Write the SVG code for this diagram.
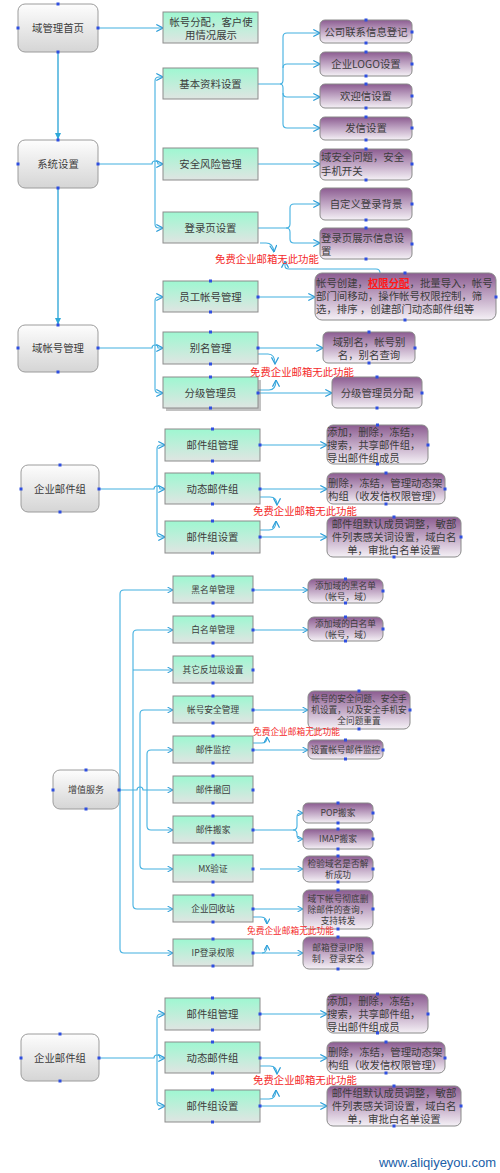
<svg xmlns="http://www.w3.org/2000/svg" width="500" height="1173" viewBox="0 0 500 1173">
<defs>
<linearGradient id="gGrey" x1="0" y1="0" x2="0" y2="1"><stop offset="0" stop-color="#fdfdfd"/><stop offset="1" stop-color="#d5d5d5"/></linearGradient>
<linearGradient id="gGreen" x1="0" y1="0" x2="0" y2="1"><stop offset="0" stop-color="#9ef7d1"/><stop offset="1" stop-color="#dfe5e2"/></linearGradient>
<linearGradient id="gPurple" x1="0" y1="0" x2="0" y2="1"><stop offset="0" stop-color="#8c5c91"/><stop offset="0.45" stop-color="#bca0c0"/><stop offset="1" stop-color="#f5f1f6"/></linearGradient>
<marker id="ar" viewBox="0 0 8 8" refX="7.5" refY="4" markerWidth="8" markerHeight="8" markerUnits="userSpaceOnUse" orient="auto"><path d="M0.8,0.5 L7.5,4 L0.8,7.5" fill="none" stroke="#2c9dd8" stroke-width="1.2"/></marker>
<marker id="ars" viewBox="0 0 8 8" refX="7.5" refY="4" markerWidth="6.5" markerHeight="6.5" markerUnits="userSpaceOnUse" orient="auto"><path d="M0.8,0.5 L7.5,4 L0.8,7.5" fill="none" stroke="#2c9dd8" stroke-width="1.3"/></marker>
<marker id="arf" viewBox="0 0 8 8" refX="7" refY="4" markerWidth="7" markerHeight="7" markerUnits="userSpaceOnUse" orient="auto"><path d="M0,0.5 L7.5,4 L0,7.5 Z" fill="#2ea8d8"/></marker>
</defs>
<style>
.grey{fill:url(#gGrey);stroke:#9c9c9c;stroke-width:1}
.green{fill:url(#gGreen);stroke:#8c8c8c;stroke-width:1}
.purple{fill:url(#gPurple);stroke:#8a8a8a;stroke-width:1}
.hd{fill:#2f4fe0}
text{font-family:"Noto Sans CJK SC","Liberation Sans",sans-serif;fill:#3c3c3c}
.f{font-size:10.4px}
.s{font-size:8.7px}
.c{text-anchor:middle}
.red{fill:#f42a2a}
.con{fill:none;stroke:#42b0e0;stroke-width:1.1}
.main{fill:none;stroke:#5ab9e0;stroke-width:1.7}
.wm{font-family:"Liberation Sans",Arial,sans-serif;font-size:13px;fill:#2060a8;text-anchor:end}
</style>
<rect width="500" height="1173" fill="#ffffff"/>

<g id="connectors">
  <path class="main" d="M58,52 V139" marker-end="url(#arf)"/>
  <path class="main" d="M58,188 V324" marker-end="url(#arf)"/>
  <path class="con" d="M98,28 H163" marker-end="url(#ar)"/>
  <path class="con" d="M98,164 H152 a3,3 0 0 1 6,0 H163" marker-end="url(#ar)"/>
  <path class="con" d="M155,164 V81 Q155,77 159,77 H163" marker-end="url(#ar)"/>
  <path class="con" d="M155,164 V224 Q155,228 159,228 H163" marker-end="url(#ar)"/>
  <path class="con" d="M258,84 H280 Q283,84 283,80 V37 Q283,33 287,33 H320" marker-end="url(#ar)"/>
  <path class="con" d="M283,68 Q283,64 287,64 H320" marker-end="url(#ar)"/>
  <path class="con" d="M283,93 Q283,97 287,97 H320" marker-end="url(#ar)"/>
  <path class="con" d="M280,84 Q283,84 283,88 V124 Q283,128 287,128 H320" marker-end="url(#ar)"/>
  <path class="con" d="M258,164 H320" marker-end="url(#ar)"/>
  <path class="con" d="M258,228 H286 Q290,228 290,224 V208 Q290,204 294,204 H320" marker-end="url(#ar)"/>
  <path class="con" d="M286,228 Q290,228 290,232 V239 Q290,243 294,243 H320" marker-end="url(#ar)"/>
  <path class="con" d="M260,243 H266 Q273,243 274,252" marker-end="url(#ar)"/>
  <path class="con" d="M380,273 Q380,269 376,269 H289 Q285,269 285,266 V261" marker-end="url(#ar)"/>
  <path class="con" d="M98,348 H152 a3,3 0 0 1 6,0 H163" marker-end="url(#ar)"/>
  <path class="con" d="M155,348 V301 Q155,297 159,297 H163" marker-end="url(#ar)"/>
  <path class="con" d="M155,348 V389 Q155,393 159,393 H163" marker-end="url(#ar)"/>
  <path class="con" d="M258,297 H315" marker-end="url(#ar)"/>
  <path class="con" d="M258,348 H323" marker-end="url(#ar)"/>
  <path class="con" d="M258,354 H268 Q275,354 275,364" marker-end="url(#ar)"/>
  <path class="con" d="M258,390 H269 Q276,390 276,380" marker-end="url(#ar)"/>
  <path class="con" d="M258,393 H332" marker-end="url(#ar)"/>
  <path class="con" d="M99,489 H154 a3,3 0 0 1 6,0 H165" marker-end="url(#ar)"/>
  <path class="con" d="M157,489 V449 Q157,445 161,445 H165" marker-end="url(#ar)"/>
  <path class="con" d="M157,489 V533 Q157,537 161,537 H165" marker-end="url(#ar)"/>
  <path class="con" d="M260,445 H327" marker-end="url(#ar)"/>
  <path class="con" d="M260,489 H327" marker-end="url(#ar)"/>
  <path class="con" d="M260,537 H327" marker-end="url(#ar)"/>
  <path class="con" d="M260,497 H270 Q277,497 277,505" marker-end="url(#ar)"/>
  <path class="con" d="M260,530 H269 Q276,530 276,521" marker-end="url(#ar)"/>
  <path class="con" d="M119,790 H137 a3,3 0 0 1 6,0 H173" marker-end="url(#ars)"/>
  <path class="con" d="M120,790 V594 Q120,590 124,590 H173" marker-end="url(#ars)"/>
  <path class="con" d="M120,790 V949 Q120,953 124,953 H173" marker-end="url(#ars)"/>
  <path class="con" d="M133,790 V634 Q133,630 137,630 H173" marker-end="url(#ars)"/>
  <path class="con" d="M133,670 H173" marker-end="url(#ars)"/>
  <path class="con" d="M133,790 V905 Q133,909 137,909 H173" marker-end="url(#ars)"/>
  <path class="con" d="M140,790 V714 Q140,710 144,710 H173" marker-end="url(#ars)"/>
  <path class="con" d="M140,790 V865 Q140,869 144,869 H173" marker-end="url(#ars)"/>
  <path class="con" d="M147,790 V754 Q147,750 151,750 H173" marker-end="url(#ars)"/>
  <path class="con" d="M147,790 V826 Q147,830 151,830 H173" marker-end="url(#ars)"/>
  <path class="con" d="M253,590 H308" marker-end="url(#ars)"/>
  <path class="con" d="M253,630 H308" marker-end="url(#ars)"/>
  <path class="con" d="M253,710 H308" marker-end="url(#ars)"/>
  <path class="con" d="M253,750 H308" marker-end="url(#ars)"/>
  <path class="con" d="M253,743 H262 Q267,743 267,737" marker-end="url(#ars)"/>
  <path class="con" d="M253,830 H293 Q297,830 297,826 V817 Q297,813 301,813 H303" marker-end="url(#ars)"/>
  <path class="con" d="M293,830 Q297,830 297,834 V835 Q297,839 301,839 H303" marker-end="url(#ars)"/>
  <path class="con" d="M260,869 H303" marker-end="url(#ars)"/>
  <path class="con" d="M253,909 H303" marker-end="url(#ars)"/>
  <path class="con" d="M253,917 H261 Q267,917 267,924" marker-end="url(#ars)"/>
  <path class="con" d="M253,953 H303" marker-end="url(#ars)"/>
  <path class="con" d="M262,953 Q267,953 267,945" marker-end="url(#ars)"/>
  <path class="con" d="M99,1058 H154 a3,3 0 0 1 6,0 H165" marker-end="url(#ar)"/>
  <path class="con" d="M157,1058 V1018 Q157,1014 161,1014 H165" marker-end="url(#ar)"/>
  <path class="con" d="M157,1058 V1102 Q157,1106 161,1106 H165" marker-end="url(#ar)"/>
  <path class="con" d="M260,1014 H327" marker-end="url(#ar)"/>
  <path class="con" d="M260,1058 H327" marker-end="url(#ar)"/>
  <path class="con" d="M260,1106 H327" marker-end="url(#ar)"/>
  <path class="con" d="M260,1066 H270 Q277,1066 277,1074" marker-end="url(#ar)"/>
  <path class="con" d="M260,1099 H269 Q276,1099 276,1090" marker-end="url(#ar)"/>
</g>

<g id="n_home"><rect class="grey" x="18" y="4" width="80" height="48" rx="7"/><text class="f c" x="58" y="32">域管理首页</text>
<rect class="hd" x="56.5" y="2.5" width="3" height="3"/><rect class="hd" x="16.5" y="26.5" width="3" height="3"/><rect class="hd" x="96.5" y="26.5" width="3" height="3"/><rect class="hd" x="56.5" y="50.5" width="3" height="3"/></g>
<g id="n_assign"><rect class="green" x="163" y="12" width="95" height="31"/><text class="f c" x="211" y="26">帐号分配，客户使</text><text class="f c" x="211" y="39">用情况展示</text></g>
<g id="n_basic"><rect class="green" x="163" y="68" width="95" height="31"/><text class="f c" x="210.5" y="88">基本资料设置</text></g>
<g id="n_sys"><rect class="grey" x="18" y="140" width="80" height="48" rx="7"/><text class="f c" x="58" y="168">系统设置</text>
<rect class="hd" x="56.5" y="138.5" width="3" height="3"/><rect class="hd" x="16.5" y="162.5" width="3" height="3"/><rect class="hd" x="96.5" y="162.5" width="3" height="3"/><rect class="hd" x="56.5" y="186.5" width="3" height="3"/></g>
<g id="n_risk"><rect class="green" x="163" y="148" width="95" height="32"/><text class="f c" x="210.5" y="168">安全风险管理</text></g>
<g id="n_login"><rect class="green" x="163" y="212" width="95" height="31"/><text class="f c" x="210.5" y="232">登录页设置</text></g>
<g id="p_contact"><rect class="purple" x="320" y="20" width="92" height="23" rx="5"/><text class="f c" x="366" y="36">公司联系信息登记</text>
<rect class="hd" x="364.5" y="18.5" width="3" height="3"/><rect class="hd" x="410.5" y="30.5" width="3" height="3"/><rect class="hd" x="364.5" y="41.5" width="3" height="3"/></g>
<g id="p_logo"><rect class="purple" x="320" y="52" width="92" height="24" rx="5"/><text class="f c" x="366" y="68">企业LOGO设置</text>
<rect class="hd" x="364.5" y="50.5" width="3" height="3"/><rect class="hd" x="410.5" y="62.5" width="3" height="3"/><rect class="hd" x="364.5" y="74.5" width="3" height="3"/></g>
<g id="p_welcome"><rect class="purple" x="320" y="84" width="92" height="24" rx="5"/><text class="f c" x="366" y="100">欢迎信设置</text>
<rect class="hd" x="364.5" y="82.5" width="3" height="3"/><rect class="hd" x="410.5" y="94.5" width="3" height="3"/><rect class="hd" x="364.5" y="106.5" width="3" height="3"/></g>
<g id="p_send"><rect class="purple" x="320" y="117" width="92" height="23" rx="5"/><text class="f c" x="366" y="132">发信设置</text>
<rect class="hd" x="364.5" y="115.5" width="3" height="3"/><rect class="hd" x="410.5" y="126.5" width="3" height="3"/><rect class="hd" x="364.5" y="138.5" width="3" height="3"/></g>
<g id="p_sec"><rect class="purple" x="320" y="149" width="92" height="31" rx="5"/><text class="f" x="321" y="161">域安全问题，安全</text><text class="f" x="321" y="175">手机开关</text>
<rect class="hd" x="364.5" y="147.5" width="3" height="3"/><rect class="hd" x="410.5" y="162.5" width="3" height="3"/><rect class="hd" x="364.5" y="178.5" width="3" height="3"/></g>
<g id="p_bg"><rect class="purple" x="320" y="188" width="92" height="32" rx="5"/><text class="f c" x="366" y="208">自定义登录背景</text>
<rect class="hd" x="410.5" y="202.5" width="3" height="3"/><rect class="hd" x="364.5" y="218.5" width="3" height="3"/></g>
<g id="p_loginfo"><rect class="purple" x="320" y="228" width="92" height="31" rx="5"/><text class="f" x="321" y="242">登录页展示信息设</text><text class="f" x="321" y="255">置</text>
<rect class="hd" x="364.5" y="226.5" width="3" height="3"/><rect class="hd" x="410.5" y="242.5" width="3" height="3"/><rect class="hd" x="364.5" y="257.5" width="3" height="3"/></g>
<g id="r1"><text class="f red" x="215" y="263">免费企业邮箱无此功能</text></g>

<g id="n_acct"><rect class="grey" x="18" y="325" width="80" height="47" rx="7"/><text class="f c" x="58" y="352">域帐号管理</text>
<rect class="hd" x="56.5" y="323.5" width="3" height="3"/><rect class="hd" x="16.5" y="346.5" width="3" height="3"/><rect class="hd" x="96.5" y="346.5" width="3" height="3"/><rect class="hd" x="56.5" y="370.5" width="3" height="3"/></g>
<g id="n_staff"><rect class="green" x="163" y="281" width="95" height="31"/><text class="f c" x="210.5" y="301">员工帐号管理</text>
<rect class="hd" x="209" y="279.5" width="3" height="3"/><rect class="hd" x="256.5" y="295.5" width="3" height="3"/><rect class="hd" x="209" y="310.5" width="3" height="3"/></g>
<g id="n_alias"><rect class="green" x="163" y="332" width="95" height="32"/><text class="f c" x="210.5" y="352">别名管理</text>
<rect class="hd" x="209" y="330.5" width="3" height="3"/><rect class="hd" x="256.5" y="346.5" width="3" height="3"/><rect class="hd" x="209" y="362.5" width="3" height="3"/></g>
<g id="n_admin"><rect x="166" y="380" width="95" height="31" fill="#777" opacity="0.45"/><rect class="green" x="163" y="377" width="95" height="31"/><text class="f c" x="210.5" y="397">分级管理员</text>
<rect class="hd" x="209" y="375.5" width="3" height="3"/><rect class="hd" x="256.5" y="391.5" width="3" height="3"/><rect class="hd" x="209" y="406.5" width="3" height="3"/></g>
<g id="p_acct"><rect class="purple" x="315" y="273" width="181" height="47" rx="7"/>
<text class="f" x="316" y="287">帐号创建，<tspan fill="#ff1a1a" font-weight="bold" text-decoration="underline">权限分配</tspan>，批量导入，帐号</text>
<text class="f" x="316" y="300">部门间移动，操作帐号权限控制，筛</text>
<text class="f" x="316" y="313">选，排序 ，创建部门动态邮件组等</text>
<rect class="hd" x="403.5" y="271.5" width="3" height="3"/><rect class="hd" x="494.5" y="295.5" width="3" height="3"/><rect class="hd" x="403.5" y="318.5" width="3" height="3"/></g>
<g id="p_alias"><rect class="purple" x="323" y="332" width="92" height="31" rx="5"/><text class="f c" x="369" y="346">域别名，帐号别</text><text class="f c" x="369" y="359">名，别名查询</text>
<rect class="hd" x="367.5" y="330.5" width="3" height="3"/><rect class="hd" x="413.5" y="346.5" width="3" height="3"/><rect class="hd" x="367.5" y="361.5" width="3" height="3"/></g>
<g id="p_admin"><rect class="purple" x="332" y="377" width="90" height="31" rx="5"/><text class="f c" x="377" y="397">分级管理员分配</text>
<rect class="hd" x="375.5" y="375.5" width="3" height="3"/><rect class="hd" x="420.5" y="391.5" width="3" height="3"/><rect class="hd" x="375.5" y="406.5" width="3" height="3"/></g>
<g id="r2"><text class="f red" x="250" y="376">免费企业邮箱无此功能</text></g>

<g id="n_grp1"><rect class="grey" x="21" y="465" width="78" height="47" rx="7"/><text class="f c" x="60" y="493">企业邮件组</text>
<rect class="hd" x="58.5" y="463.5" width="3" height="3"/><rect class="hd" x="19.5" y="487.5" width="3" height="3"/><rect class="hd" x="97.5" y="487.5" width="3" height="3"/><rect class="hd" x="58.5" y="510.5" width="3" height="3"/></g>
<g id="g_mgmt"><rect class="green" x="165" y="429" width="95" height="32"/><text class="f c" x="212.5" y="449">邮件组管理</text>
<rect class="hd" x="211" y="427.5" width="3" height="3"/><rect class="hd" x="258.5" y="443.5" width="3" height="3"/><rect class="hd" x="211" y="459.5" width="3" height="3"/></g>
<g id="g_dyn"><rect class="green" x="165" y="473" width="95" height="31"/><text class="f c" x="212.5" y="493">动态邮件组</text>
<rect class="hd" x="211" y="471.5" width="3" height="3"/><rect class="hd" x="258.5" y="487.5" width="3" height="3"/><rect class="hd" x="211" y="502.5" width="3" height="3"/></g>
<g id="g_set"><rect class="green" x="165" y="521" width="95" height="32"/><text class="f c" x="212.5" y="541">邮件组设置</text>
<rect class="hd" x="211" y="519.5" width="3" height="3"/><rect class="hd" x="258.5" y="535.5" width="3" height="3"/><rect class="hd" x="211" y="551.5" width="3" height="3"/></g>
<g id="p_g1"><rect class="purple" x="327" y="425" width="101" height="39" rx="6"/><text class="f" x="327" y="436">添加，删除，冻结，</text><text class="f" x="327" y="449">搜索，共享邮件组，</text><text class="f" x="327" y="462">导出邮件组成员</text>
<rect class="hd" x="376" y="423.5" width="3" height="3"/><rect class="hd" x="426.5" y="443.5" width="3" height="3"/><rect class="hd" x="376" y="462.5" width="3" height="3"/></g>
<g id="p_g2"><rect class="purple" x="327" y="473" width="118" height="31" rx="6"/><text class="f" x="328" y="487">删除，冻结，管理动态架</text><text class="f" x="328" y="500">构组（收发信权限管理）</text>
<rect class="hd" x="384.5" y="471.5" width="3" height="3"/><rect class="hd" x="443.5" y="487.5" width="3" height="3"/><rect class="hd" x="384.5" y="502.5" width="3" height="3"/></g>
<g id="p_g3"><rect class="purple" x="327" y="517" width="134" height="40" rx="6"/><text class="f c" x="394" y="528">邮件组默认成员调整，敏部</text><text class="f c" x="394" y="541">件列表感关词设置，域白名</text><text class="f c" x="394" y="554">单，审批白名单设置</text>
<rect class="hd" x="392.5" y="515.5" width="3" height="3"/><rect class="hd" x="459.5" y="535.5" width="3" height="3"/><rect class="hd" x="392.5" y="555.5" width="3" height="3"/></g>
<g id="r3"><text class="f red" x="253" y="515">免费企业邮箱无此功能</text></g>

<g id="n_vas"><rect class="grey" x="53" y="770" width="66" height="39" rx="7"/><text class="c" font-size="9" x="86" y="793.3">增值服务</text>
<rect class="hd" x="84.5" y="768.5" width="3" height="3"/><rect class="hd" x="51.5" y="788.5" width="3" height="3"/><rect class="hd" x="117.5" y="788.5" width="3" height="3"/><rect class="hd" x="84.5" y="807.5" width="3" height="3"/></g>
<g id="v_black"><rect class="green" x="173" y="576" width="80" height="27"/><text class="s c" x="213" y="593">黑名单管理</text>
<rect class="hd" x="211.5" y="574.5" width="3" height="3"/><rect class="hd" x="251.5" y="588.5" width="3" height="3"/><rect class="hd" x="211.5" y="601.5" width="3" height="3"/></g>
<g id="v_white"><rect class="green" x="173" y="616" width="80" height="27"/><text class="s c" x="213" y="633">白名单管理</text>
<rect class="hd" x="211.5" y="614.5" width="3" height="3"/><rect class="hd" x="251.5" y="628.5" width="3" height="3"/><rect class="hd" x="211.5" y="641.5" width="3" height="3"/></g>
<g id="v_spam"><rect class="green" x="173" y="656" width="80" height="27"/><text class="s c" x="213" y="673">其它反垃圾设置</text>
<rect class="hd" x="211.5" y="654.5" width="3" height="3"/><rect class="hd" x="251.5" y="668.5" width="3" height="3"/><rect class="hd" x="211.5" y="681.5" width="3" height="3"/></g>
<g id="v_secure"><rect class="green" x="173" y="696" width="80" height="27"/><text class="s c" x="213" y="713">帐号安全管理</text>
<rect class="hd" x="211.5" y="694.5" width="3" height="3"/><rect class="hd" x="251.5" y="708.5" width="3" height="3"/><rect class="hd" x="211.5" y="721.5" width="3" height="3"/></g>
<g id="v_monitor"><rect class="green" x="173" y="736" width="80" height="27"/><text class="s c" x="213" y="753">邮件监控</text>
<rect class="hd" x="211.5" y="734.5" width="3" height="3"/><rect class="hd" x="251.5" y="748.5" width="3" height="3"/><rect class="hd" x="211.5" y="761.5" width="3" height="3"/></g>
<g id="v_recall"><rect class="green" x="173" y="776" width="80" height="27"/><text class="s c" x="213" y="793">邮件撤回</text>
<rect class="hd" x="211.5" y="774.5" width="3" height="3"/><rect class="hd" x="251.5" y="788.5" width="3" height="3"/><rect class="hd" x="211.5" y="801.5" width="3" height="3"/></g>
<g id="v_move"><rect class="green" x="173" y="816" width="80" height="27"/><text class="s c" x="213" y="833">邮件搬家</text>
<rect class="hd" x="211.5" y="814.5" width="3" height="3"/><rect class="hd" x="251.5" y="828.5" width="3" height="3"/><rect class="hd" x="211.5" y="841.5" width="3" height="3"/></g>
<g id="v_mx"><rect class="green" x="173" y="855" width="80" height="27"/><text class="s c" x="213" y="872">MX验证</text>
<rect class="hd" x="211.5" y="853.5" width="3" height="3"/><rect class="hd" x="251.5" y="867.5" width="3" height="3"/><rect class="hd" x="211.5" y="880.5" width="3" height="3"/></g>
<g id="v_recycle"><rect class="green" x="173" y="895" width="80" height="27"/><text class="s c" x="213" y="912">企业回收站</text>
<rect class="hd" x="211.5" y="893.5" width="3" height="3"/><rect class="hd" x="251.5" y="907.5" width="3" height="3"/><rect class="hd" x="211.5" y="920.5" width="3" height="3"/></g>
<g id="v_ip"><rect class="green" x="173" y="939" width="80" height="27"/><text class="s c" x="213" y="956">IP登录权限</text>
<rect class="hd" x="211.5" y="937.5" width="3" height="3"/><rect class="hd" x="251.5" y="951.5" width="3" height="3"/><rect class="hd" x="211.5" y="964.5" width="3" height="3"/></g>
<g id="pv_black"><rect class="purple" x="308" y="579" width="75" height="24" rx="6"/><text class="s c" x="345.5" y="589">添加域的黑名单</text><text class="s c" x="345.5" y="600">（帐号，域）</text>
<rect class="hd" x="344" y="577.5" width="3" height="3"/><rect class="hd" x="381.5" y="589.5" width="3" height="3"/><rect class="hd" x="344" y="601.5" width="3" height="3"/></g>
<g id="pv_white"><rect class="purple" x="308" y="617" width="75" height="24" rx="6"/><text class="s c" x="345.5" y="627">添加域的白名单</text><text class="s c" x="345.5" y="638">（帐号，域）</text>
<rect class="hd" x="344" y="615.5" width="3" height="3"/><rect class="hd" x="381.5" y="627.5" width="3" height="3"/><rect class="hd" x="344" y="639.5" width="3" height="3"/></g>
<g id="pv_secure"><rect class="purple" x="308" y="691" width="102" height="38" rx="6"/><text class="s c" x="359" y="702">帐号的安全问题、安全手</text><text class="s c" x="359" y="713">机设置，以及安全手机安</text><text class="s c" x="359" y="724">全问题重置</text>
<rect class="hd" x="357.5" y="689.5" width="3" height="3"/><rect class="hd" x="408.5" y="708.5" width="3" height="3"/><rect class="hd" x="357.5" y="727.5" width="3" height="3"/></g>
<g id="pv_monitor"><rect class="purple" x="308" y="740" width="75" height="19" rx="5"/><text class="s c" x="345.5" y="753">设置帐号邮件监控</text>
<rect class="hd" x="344" y="738.5" width="3" height="3"/><rect class="hd" x="381.5" y="748.5" width="3" height="3"/><rect class="hd" x="344" y="757.5" width="3" height="3"/></g>
<g id="pv_pop"><rect class="purple" x="303" y="803" width="70" height="20" rx="5"/><text class="s c" x="338" y="816">POP搬家</text>
<rect class="hd" x="336.5" y="801.5" width="3" height="3"/><rect class="hd" x="371.5" y="811.5" width="3" height="3"/><rect class="hd" x="336.5" y="821.5" width="3" height="3"/></g>
<g id="pv_imap"><rect class="purple" x="303" y="829" width="70" height="20" rx="5"/><text class="s c" x="338" y="842">IMAP搬家</text>
<rect class="hd" x="336.5" y="827.5" width="3" height="3"/><rect class="hd" x="371.5" y="837.5" width="3" height="3"/><rect class="hd" x="336.5" y="847.5" width="3" height="3"/></g>
<g id="pv_mx"><rect class="purple" x="303" y="856" width="70" height="26" rx="6"/><text class="s c" x="338" y="867">检验域名是否解</text><text class="s c" x="338" y="878">析成功</text>
<rect class="hd" x="336.5" y="854.5" width="3" height="3"/><rect class="hd" x="371.5" y="867.5" width="3" height="3"/><rect class="hd" x="336.5" y="880.5" width="3" height="3"/></g>
<g id="pv_recycle"><rect class="purple" x="303" y="890" width="70" height="39" rx="6"/><text class="s c" x="338" y="902">域下帐号彻底删</text><text class="s c" x="338" y="913">除邮件的查询，</text><text class="s c" x="338" y="924">支持转发</text>
<rect class="hd" x="336.5" y="888.5" width="3" height="3"/><rect class="hd" x="371.5" y="907.5" width="3" height="3"/><rect class="hd" x="336.5" y="927.5" width="3" height="3"/></g>
<g id="pv_ip"><rect class="purple" x="303" y="937" width="70" height="32" rx="6"/><text class="s c" x="338" y="951">邮箱登录IP限</text><text class="s c" x="338" y="962">制，登录安全</text>
<rect class="hd" x="336.5" y="935.5" width="3" height="3"/><rect class="hd" x="371.5" y="951.5" width="3" height="3"/><rect class="hd" x="336.5" y="967.5" width="3" height="3"/></g>
<g id="r4"><text class="s red" x="253" y="735">免费企业邮箱无此功能</text></g>
<g id="r5"><text class="s red" x="247" y="934">免费企业邮箱无此功能</text></g>

<g id="n_grp2"><rect class="grey" x="21" y="1034" width="78" height="47" rx="7"/><text class="f c" x="60" y="1062">企业邮件组</text>
<rect class="hd" x="58.5" y="1032.5" width="3" height="3"/><rect class="hd" x="19.5" y="1056.5" width="3" height="3"/><rect class="hd" x="97.5" y="1056.5" width="3" height="3"/><rect class="hd" x="58.5" y="1079.5" width="3" height="3"/></g>
<g id="g2_mgmt"><rect class="green" x="165" y="998" width="95" height="32"/><text class="f c" x="212.5" y="1018">邮件组管理</text>
<rect class="hd" x="211" y="996.5" width="3" height="3"/><rect class="hd" x="258.5" y="1012.5" width="3" height="3"/><rect class="hd" x="211" y="1028.5" width="3" height="3"/></g>
<g id="g2_dyn"><rect class="green" x="165" y="1042" width="95" height="31"/><text class="f c" x="212.5" y="1062">动态邮件组</text>
<rect class="hd" x="211" y="1040.5" width="3" height="3"/><rect class="hd" x="258.5" y="1056.5" width="3" height="3"/><rect class="hd" x="211" y="1071.5" width="3" height="3"/></g>
<g id="g2_set"><rect class="green" x="165" y="1090" width="95" height="32"/><text class="f c" x="212.5" y="1110">邮件组设置</text>
<rect class="hd" x="211" y="1088.5" width="3" height="3"/><rect class="hd" x="258.5" y="1104.5" width="3" height="3"/><rect class="hd" x="211" y="1120.5" width="3" height="3"/></g>
<g id="p2_g1"><rect class="purple" x="327" y="994" width="101" height="39" rx="6"/><text class="f" x="327" y="1005">添加，删除，冻结，</text><text class="f" x="327" y="1018">搜索，共享邮件组，</text><text class="f" x="327" y="1031">导出邮件组成员</text>
<rect class="hd" x="376" y="992.5" width="3" height="3"/><rect class="hd" x="426.5" y="1012.5" width="3" height="3"/><rect class="hd" x="376" y="1031.5" width="3" height="3"/></g>
<g id="p2_g2"><rect class="purple" x="327" y="1042" width="118" height="31" rx="6"/><text class="f" x="328" y="1056">删除，冻结，管理动态架</text><text class="f" x="328" y="1069">构组（收发信权限管理）</text>
<rect class="hd" x="384.5" y="1040.5" width="3" height="3"/><rect class="hd" x="443.5" y="1056.5" width="3" height="3"/><rect class="hd" x="384.5" y="1071.5" width="3" height="3"/></g>
<g id="p2_g3"><rect class="purple" x="327" y="1086" width="134" height="40" rx="6"/><text class="f c" x="394" y="1097">邮件组默认成员调整，敏部</text><text class="f c" x="394" y="1110">件列表感关词设置，域白名</text><text class="f c" x="394" y="1123">单，审批白名单设置</text>
<rect class="hd" x="392.5" y="1084.5" width="3" height="3"/><rect class="hd" x="459.5" y="1104.5" width="3" height="3"/><rect class="hd" x="392.5" y="1124.5" width="3" height="3"/></g>
<g id="r6"><text class="f red" x="253" y="1084">免费企业邮箱无此功能</text></g>

<g id="watermark"><text class="wm" x="496" y="1167">www.aliqiyeyou.com</text></g>
</svg>
